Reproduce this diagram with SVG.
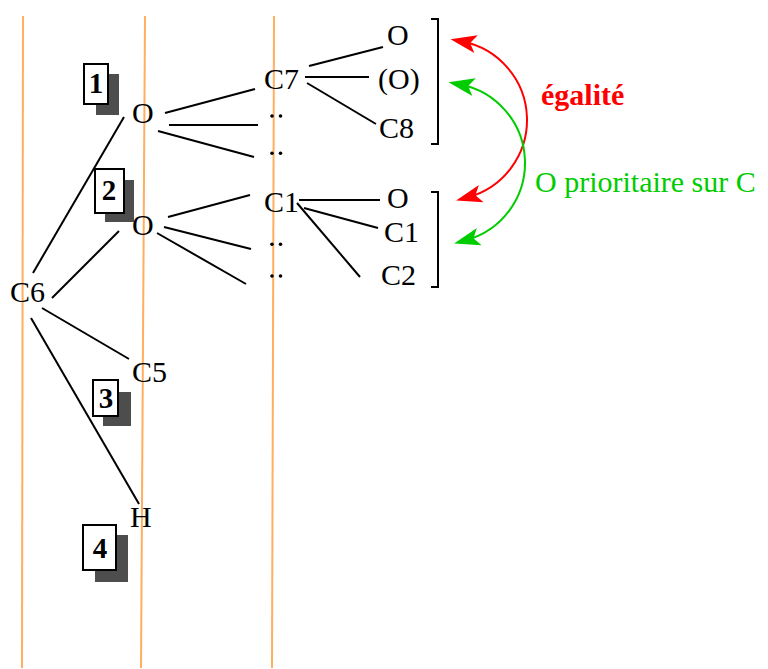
<svg xmlns="http://www.w3.org/2000/svg" width="768" height="669" viewBox="0 0 768 669">
<style>
.guide{stroke:#FFAF5F;stroke-width:2;fill:none}
.bond{stroke:#000;stroke-width:2;fill:none}
.lbl{font-family:"Liberation Serif","Times New Roman",serif;font-size:30px;fill:#000}
.dot{fill:#000}
.num{font-family:"Liberation Serif","Times New Roman",serif;font-size:29px;font-weight:bold;fill:#000;text-anchor:middle}
.box{fill:#fff;stroke:#000;stroke-width:2}
.shadow{fill:#4D4D4D}
.brk{stroke:#000;stroke-width:2;fill:none}
</style>
<defs>
<marker id="arR" markerUnits="userSpaceOnUse" markerWidth="40" markerHeight="40" refX="0" refY="0" orient="auto-start-reverse" overflow="visible">
<path d="M12,0 L-14,-9 L-8,0 L-14,9 Z" fill="#FF0000"/>
</marker>
<marker id="arG" markerUnits="userSpaceOnUse" markerWidth="40" markerHeight="40" refX="0" refY="0" orient="auto-start-reverse" overflow="visible">
<path d="M12,0 L-14,-9 L-8,0 L-14,9 Z" fill="#00CC00"/>
</marker>
<g id="pair"><circle class="dot" cx="0" cy="0" r="1.8"/><circle class="dot" cx="8.5" cy="0" r="1.8"/></g>
</defs>
<rect width="768" height="669" fill="#fff"/>
<g id="guides">
<line class="guide" x1="23" y1="16" x2="22" y2="668"/>
<line class="guide" x1="145" y1="16" x2="141" y2="668"/>
<line class="guide" x1="274" y1="16" x2="272" y2="668"/>
</g>
<g id="connectors">
<line class="bond" x1="33" y1="273" x2="124" y2="117"/>
<line class="bond" x1="52" y1="298" x2="119" y2="231"/>
<line class="bond" x1="42" y1="308" x2="129" y2="359"/>
<line class="bond" x1="31" y1="318" x2="139" y2="504"/>
<line class="bond" x1="165" y1="113" x2="255" y2="89"/>
<line class="bond" x1="169" y1="125" x2="258" y2="125"/>
<line class="bond" x1="158" y1="131" x2="254" y2="157"/>
<line class="bond" x1="168" y1="217" x2="250" y2="195"/>
<line class="bond" x1="164" y1="227" x2="251" y2="249"/>
<line class="bond" x1="157" y1="233" x2="246" y2="284"/>
<line class="bond" x1="309" y1="66" x2="383" y2="47"/>
<line class="bond" x1="305" y1="77" x2="369" y2="77"/>
<line class="bond" x1="307" y1="83" x2="376" y2="124"/>
<line class="bond" x1="299" y1="200" x2="380" y2="200"/>
<line class="bond" x1="304" y1="208" x2="378" y2="228"/>
<line class="bond" x1="297" y1="203" x2="360" y2="277"/>
<path id="arc-egalite" d="M462.3,41.5 A80,80 0 0 1 467.7,197.3" stroke="#FF0000" stroke-width="2" fill="none" marker-start="url(#arR)" marker-end="url(#arR)"/>
<path id="arc-prior" d="M460.3,84.5 A80,80 0 0 1 465.7,240.3" stroke="#00CC00" stroke-width="2" fill="none" marker-start="url(#arG)" marker-end="url(#arG)"/>
</g>
<g id="brackets">
<path class="brk" d="M431,19 H438 V144 H431"/>
<path class="brk" d="M431,192 H438 V287 H431"/>
</g>
<g id="n-C6"><text class="lbl" x="10" y="302">C6</text></g>
<g id="n-O1"><text class="lbl" x="132" y="123">O</text></g>
<g id="n-O2"><text class="lbl" x="132" y="235">O</text></g>
<g id="n-C5"><text class="lbl" x="132" y="382">C5</text></g>
<g id="n-H"><text class="lbl" x="130" y="527">H</text></g>
<g id="n-C7"><text class="lbl" x="264" y="89">C7</text></g>
<g id="n-dots1"><use href="#pair" x="272" y="116"/></g>
<g id="n-dots2"><use href="#pair" x="272" y="153.3"/></g>
<g id="n-C1"><text class="lbl" x="264" y="212">C1</text></g>
<g id="n-dots3"><use href="#pair" x="272" y="244.3"/></g>
<g id="n-dots4"><use href="#pair" x="272" y="276"/></g>
<g id="n-O-a"><text class="lbl" x="387" y="45">O</text></g>
<g id="n-O-b"><text class="lbl" x="378" y="89">(O)</text></g>
<g id="n-C8"><text class="lbl" x="379" y="138">C8</text></g>
<g id="n-O-c"><text class="lbl" x="387" y="208">O</text></g>
<g id="n-C1b"><text class="lbl" x="384" y="242">C1</text></g>
<g id="n-C2"><text class="lbl" x="381" y="285">C2</text></g>
<g id="badge1"><rect class="shadow" x="96" y="74" width="23" height="41"/><rect class="box" x="84" y="64" width="24" height="40"/><text class="num" x="96" y="93">1</text></g>
<g id="badge2"><rect class="shadow" x="105" y="180" width="29" height="42"/><rect class="box" x="95" y="169" width="29" height="44"/><text class="num" x="109" y="200">2</text></g>
<g id="badge3"><rect class="shadow" x="103" y="392" width="28" height="34"/><rect class="box" x="93" y="380" width="25" height="36"/><text class="num" x="106" y="408">3</text></g>
<g id="badge4"><rect class="shadow" x="95" y="535" width="33" height="47"/><rect class="box" x="83" y="525" width="33" height="45"/><text class="num" x="100" y="558">4</text></g>
<g id="lbl-egalite"><text x="541" y="105" font-family="Liberation Serif,'Times New Roman',serif" font-size="30" font-weight="bold" fill="#FF0000">égalité</text></g>
<g id="lbl-prior"><text x="535" y="192" font-family="Liberation Serif,'Times New Roman',serif" font-size="30" fill="#00CC00">O prioritaire sur C</text></g>
</svg>
